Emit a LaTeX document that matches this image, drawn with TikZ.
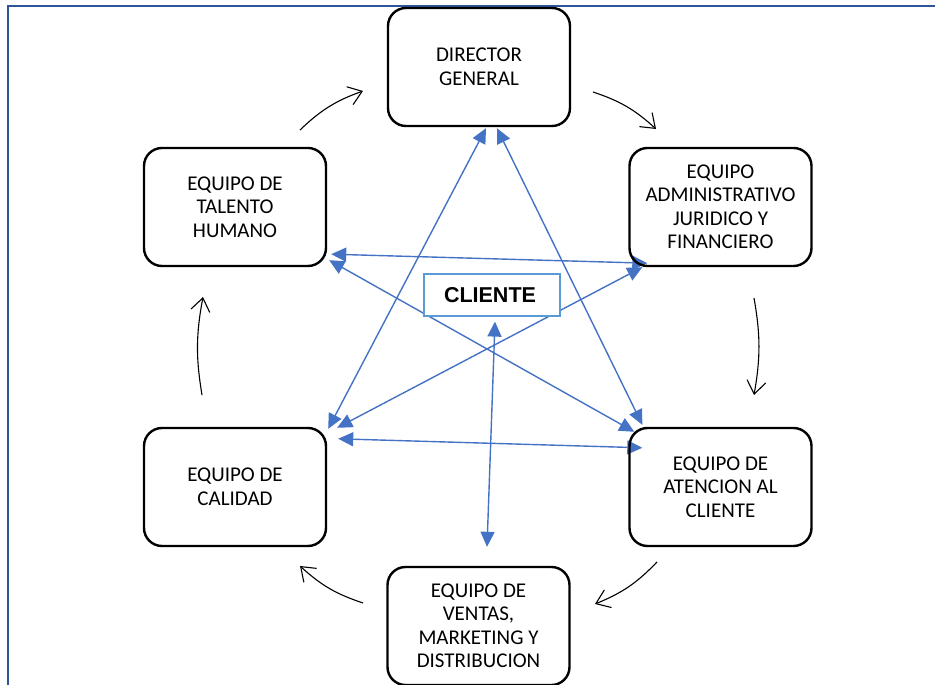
\documentclass[tikz,border=0pt]{standalone}
\usepackage{fontspec}
\setmainfont{Carlito}
\newfontfamily\clientefont{Liberation Sans}
\usetikzlibrary{arrows.meta,calc,backgrounds}
\definecolor{linkblue}{HTML}{4472C4}
\definecolor{frameblue}{HTML}{2F5597}
\definecolor{clientblue}{HTML}{5B9BD5}

\begin{document}
\begin{tikzpicture}[x=1pt,y=1pt,
  area/.style={draw=black, line width=2.4pt, rounded corners=18pt,
    minimum width=182pt, minimum height=118pt, align=center, inner sep=0pt,
    font=\fontsize{21}{23.5}\selectfont},
  clientbox/.style={draw=clientblue, fill=white, line width=1.2pt,
    minimum width=136pt, minimum height=42pt, inner sep=0pt,
    font=\clientefont\bfseries\fontsize{21.5}{24}\selectfont},
  link/.style={draw=linkblue, line width=1.4pt,
    {Triangle[length=15pt,width=14pt]}-{Triangle[length=15pt,width=14pt]}},
  flow/.style={draw=black, line width=1.1pt,
    -{Straight Barb[length=13pt,width=19pt]}},
]
\useasboundingbox (0,0) rectangle (935,685);

% page frame
\draw[frameblue, line width=1.6pt] (8,0) -- (8,679) -- (935,679);

% areas
\node[area] (dir) at (479,618) {DIRECTOR\\GENERAL};
\node[area] (adm) at (720.5,478) {EQUIPO\\ADMINISTRATIVO\\JURIDICO Y\\FINANCIERO};
\node[area] (tal) at (235,478) {EQUIPO DE\\TALENTO\\HUMANO};
\node[area] (cal) at (235,198) {EQUIPO DE\\CALIDAD};
\node[area] (ate) at (720.5,198) {EQUIPO DE\\ATENCION AL\\CLIENTE};
\node[area] (ven) at (478.5,59) {EQUIPO DE\\VENTAS,\\MARKETING Y\\DISTRIBUCION};
\node[clientbox] (cli) at (492,390) {\hspace*{-4pt}CLIENTE};

% two-way links between areas
\begin{scope}[on background layer]
\draw[link] ($(dir.south)+(7,-1)$) -- ($(cal.north east)+(1,-2)$);
\draw[link] ($(dir.south)+(18,-1)$) -- ($(ate.north west)+(14,2)$);
\draw[link] ($(tal.south east)+(4,13)$) -- ($(adm.south west)+(19,4)$);
\draw[link] ($(tal.south east)+(2,7)$) -- ($(ate.north west)+(6,-5)$);
\draw[link] ($(adm.south west)+(14,0)$) -- ($(cal.north east)+(10,-1)$);
\draw[link] ($(cal.north east)+(11,-12)$) -- ($(ate.north west)+(14,-21)$);
\draw[link] ($(cli.south)+(3,-5)$) -- ($(ven.north)+(8.5,19)$);
\end{scope}

% clockwise cycle arrows
\coordinate (a1) at (300,555); \coordinate (a2) at (363,594);
\coordinate (b1) at (593,593); \coordinate (b2) at (656,556);
\coordinate (c1) at (754,387); \coordinate (c2) at (754,290);
\coordinate (d1) at (657,123); \coordinate (d2) at (595,81);
\coordinate (e1) at (363,82);  \coordinate (e2) at (300,119);
\coordinate (f1) at (202,290); \coordinate (f2) at (203,388);
\draw[flow] (a1) to[bend left=12] (a2);
\draw[flow] (b1) to[bend left=12] (b2);
\draw[flow] (c1) to[bend left=10] (c2);
\draw[flow] (d1) to[bend left=12] (d2);
\draw[flow] (e1) to[bend left=12] (e2);
\draw[flow] (f1) to[bend left=10] (f2);
\end{tikzpicture}
\end{document}
